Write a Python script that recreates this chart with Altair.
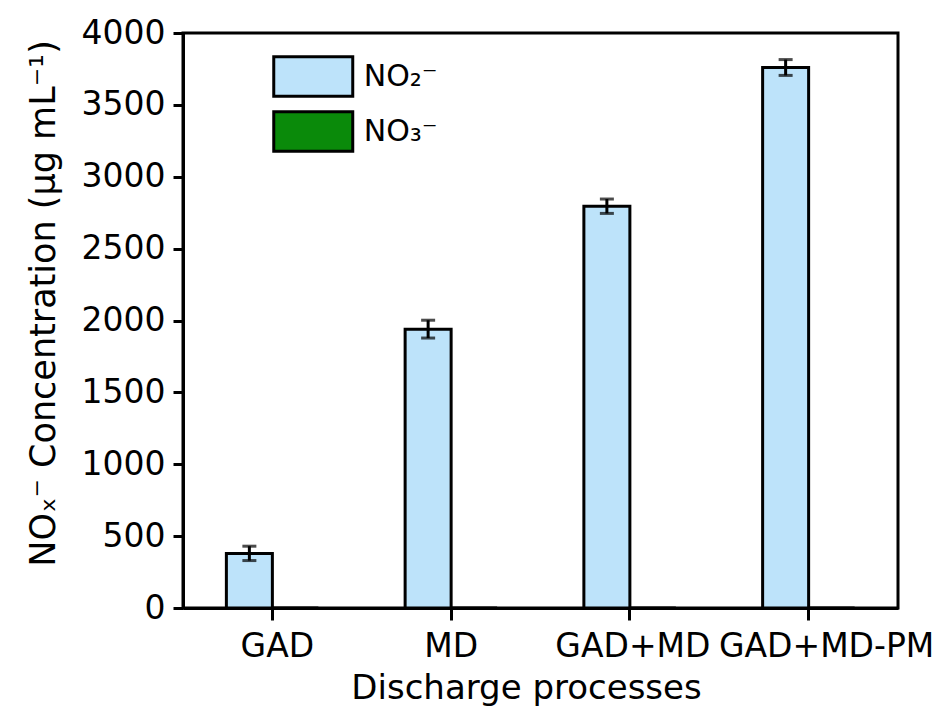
import altair as alt
import pandas as pd

categories = ["GAD", "MD", "GAD+MD", "GAD+MD-PM"]
series = ["NO₂⁻", "NO₃⁻"]
no2_values = [380, 1940, 2795, 3760]
no2_errors = [50, 62, 50, 55]
no3_values = [0, 0, 0, 0]
no3_errors = [0, 0, 0, 0]
colors = ["#bde3fa", "#0a8a0a"]
y_ticks = list(range(0, 4001, 250))

rows = []
for c, v, e in zip(categories, no2_values, no2_errors):
    rows.append({"cat": c, "series": series[0], "value": v, "lo": v - e, "hi": v + e})
for c, v, e in zip(categories, no3_values, no3_errors):
    rows.append({"cat": c, "series": series[1], "value": v, "lo": v - e, "hi": v + e})
df = pd.DataFrame(rows)
err_df = df[df["series"] == series[0]]

FONT = "DejaVu Sans"
FS = 33

xscale = alt.Scale(domain=categories, paddingInner=0, paddingOuter=0)
xoff = alt.Scale(domain=series, paddingInner=0, paddingOuter=0.943)
yscale = alt.Scale(domain=[0, 4000], nice=False)

label_shift = {
    "condition": [
        {"test": "datum.value === 'GAD'", "value": 5},
        {"test": "datum.value === 'GAD+MD'", "value": 3},
        {"test": "datum.value === 'GAD+MD-PM'", "value": 18},
    ],
    "value": 0,
}

x_enc = alt.X("cat:N", scale=xscale, sort=categories,
              axis=alt.Axis(title="Discharge processes", labelAngle=0, tickSize=12,
                            tickWidth=3, domainWidth=3, domainColor="black", tickColor="black",
                            labelFontSize=FS, titleFontSize=34, labelFont=FONT, titleFont=FONT,
                            labelColor="black", titleColor="black", labelPadding=10,
                            titlePadding=8, titleX=343, titleFontWeight="normal", grid=False,
                            labelLimit=400, labelOffset=label_shift))

bars = alt.Chart(df).mark_bar(stroke="black", strokeWidth=3).encode(
    x=x_enc,
    xOffset=alt.XOffset("series:N", scale=xoff, sort=series),
    y=alt.Y("value:Q", scale=yscale,
            axis=alt.Axis(title="NOₓ⁻ Concentration (μg mL⁻¹)", values=y_ticks,
                          tickSize={"condition": {"test": "datum.value % 500 === 0", "value": 10}, "value": 5},
                          labelExpr="datum.value % 500 === 0 ? datum.label : ''",
                          tickWidth=3, domainWidth=3, domainColor="black",
                          tickColor="black", labelFontSize=FS, titleFontSize=35,
                          labelFont=FONT, titleFont=FONT, labelColor="black",
                          titleColor="black", labelPadding=8, titlePadding=20,
                          titleY=270, titleFontWeight="normal", grid=False, format="d")),
    color=alt.Color("series:N", scale=alt.Scale(domain=series, range=colors),
                    legend=alt.Legend(title=None, orient="none", legendX=108.75, legendY=22,
                                      symbolType="M-2,-1H2V1H-2Z", symbolSize=1560,
                                      symbolStrokeColor="black", symbolStrokeWidth=3,
                                      symbolOpacity=1, labelFont=FONT, labelFontSize=30,
                                      labelColor="black", rowPadding=2, labelOffset=29)),
)

rule = alt.Chart(err_df).mark_rule(color="black", strokeWidth=3).encode(
    x=alt.X("cat:N", scale=xscale, sort=categories),
    xOffset=alt.XOffset("series:N", scale=xoff, sort=series),
    y=alt.Y("lo:Q", scale=yscale),
    y2="hi:Q",
)
cap_lo = alt.Chart(err_df).mark_tick(color="black", thickness=3, size=14).encode(
    x=alt.X("cat:N", scale=xscale, sort=categories),
    xOffset=alt.XOffset("series:N", scale=xoff, sort=series),
    y=alt.Y("lo:Q", scale=yscale),
)
cap_hi = alt.Chart(err_df).mark_tick(color="black", thickness=3, size=14).encode(
    x=alt.X("cat:N", scale=xscale, sort=categories),
    xOffset=alt.XOffset("series:N", scale=xoff, sort=series),
    y=alt.Y("hi:Q", scale=yscale),
)

chart = alt.layer(bars, rule, cap_lo, cap_hi).properties(
    width=715, height=575,
    autosize=alt.AutoSizeParams(type="none"),
    padding={"left": 183, "top": 33, "right": 44, "bottom": 109},
    background="white",
).configure_view(stroke="black", strokeWidth=3)

chart.save("out.html", embed_options={"renderer": "svg", "actions": False})
